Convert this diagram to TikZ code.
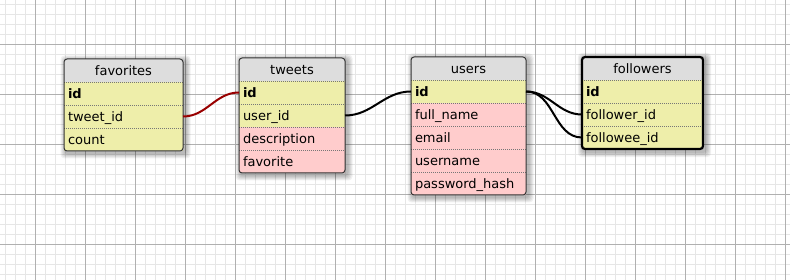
\documentclass[tikz,border=0pt]{standalone}
\usepackage{fontspec}
\setmainfont{DejaVu Sans}
\usetikzlibrary{positioning,fit,calc}

\definecolor{headgray}{HTML}{DDDDDD}
\definecolor{keyyellow}{HTML}{EEEEAA}
\definecolor{fieldpink}{HTML}{FFCCCC}
\definecolor{gridminor}{HTML}{E6E6E6}
\definecolor{gridmajor}{HTML}{B0B0B0}
\definecolor{framegray}{HTML}{333333}
\definecolor{sepgray}{HTML}{777777}
\definecolor{linkred}{HTML}{990000}

\pgfdeclarelayer{grid}
\pgfdeclarelayer{shade}
\pgfsetlayers{grid,shade,main}

\tikzset{
  tblfont/.style={font={\fontsize{13}{15}\selectfont}},
  tblhead/.style={tblfont, anchor=north west, fill=headgray, minimum height=23pt,
    inner sep=0pt, outer sep=0pt, text height=11pt, text depth=0.5pt},
  tblrow/.style={tblfont, minimum height=23pt, inner xsep=4pt, inner ysep=0pt,
    outer sep=0pt, align=left, text height=11pt, text depth=0.5pt},
  rowsep/.style={sepgray, line width=0.8pt, dash pattern=on 1pt off 1pt},
  tblframe/.style={draw=framegray, line width=1pt, rounded corners=3pt, inner sep=0pt},
  tblshadow/.style={black, opacity=0.06},
  link/.style={line width=2pt},
}

% #1 frame options, #2 name, #3 top left, #4 width, #5 title, #6 label/colour rows
\newcommand{\dbtable}[6][]{%
  \pgfmathsetmacro\rowtw{#4-8}
  \node[tblhead, minimum width=#4pt, alias=#2-0] (#2) at #3 {#5};
  \foreach \lbl/\clr [count=\i, remember=\i as \j (initially 0)] in {#6} {
    \node[tblrow, fill=\clr, text width=\rowtw pt, below=0pt of #2-\j] (#2-\i) {\lbl};
    \draw[rowsep] (#2-\i.north west) -- (#2-\i.north east);
    \xdef\lastrow{\i}
  }
  \node[tblframe, #1, fit=(#2)(#2-\lastrow)] (#2-frame) {};
  \begin{pgfonlayer}{shade}
    \foreach \s in {1,...,5}
      \fill[tblshadow, rounded corners=4pt]
        ($(#2-frame.north west)+(2-\s,2-\s)$) rectangle ($(#2-frame.south east)+(2+\s,2+\s)$);
  \end{pgfonlayer}
}

\begin{document}
\begin{tikzpicture}[x=1pt, y=-1pt]
  \useasboundingbox (0,0) rectangle (790,280);

  \begin{pgfonlayer}{grid}
    \fill[white] (0,0) rectangle (790,280);
    \foreach \x in {5,15,...,785} \draw[gridminor, line width=1pt] (\x,0) -- (\x,280);
    \foreach \y in {5,15,...,275} \draw[gridminor, line width=1pt] (0,\y) -- (790,\y);
    \foreach \x in {35,85,...,785} \draw[gridmajor, line width=1pt] (\x,0) -- (\x,280);
    \foreach \y in {45,95,...,245} \draw[gridmajor, line width=1pt] (0,\y) -- (790,\y);
  \end{pgfonlayer}

  \dbtable{favorites}{(64,59)}{119}{favorites}
    {\textbf{id}/keyyellow, tweet\_id/keyyellow, count/keyyellow}
  \dbtable{tweets}{(239,58)}{106}{tweets}
    {\textbf{id}/keyyellow, user\_id/keyyellow, description/fieldpink, favorite/fieldpink}
  \dbtable{users}{(411,57)}{115}{users}
    {\textbf{id}/keyyellow, full\_name/fieldpink, email/fieldpink, username/fieldpink,
     password\_hash/fieldpink}
  \dbtable[draw=black, line width=2.2pt]{followers}{(582,57)}{121}{followers}
    {\textbf{id}/keyyellow, follower\_id/keyyellow, followee\_id/keyyellow}

  \draw[link, linkred] (favorites-2.east) to[out=0, in=180] (tweets-1.west);
  \draw[link] (tweets-2.east) to[out=0, in=180] (users-1.west);
  \draw[link] (users-1.east) to[out=0, in=180] (followers-2.west);
  \draw[link] (users-1.east) to[out=0, in=180] (followers-3.west);
\end{tikzpicture}
\end{document}
